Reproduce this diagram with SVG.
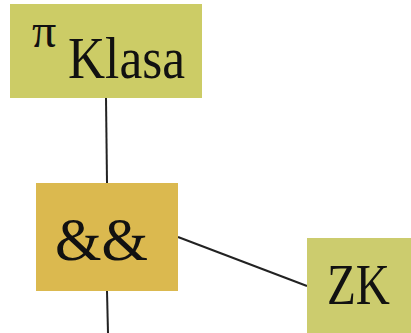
<svg xmlns="http://www.w3.org/2000/svg" width="411" height="333" viewBox="0 0 411 333">
<style>
.t{font-family:'Liberation Serif','DejaVu Serif',serif;fill:#111}
.c{stroke:#222;stroke-width:2;fill:none}
</style>
<rect width="411" height="333" fill="#fff"/>
<g id="connectors">
<line class="c" x1="106" y1="98" x2="107" y2="183"/>
<line class="c" x1="107" y1="291" x2="108" y2="333"/>
<line class="c" x1="178" y1="237" x2="307" y2="286"/>
</g>
<g id="node-klasa">
<rect x="10" y="4" width="192" height="94" fill="#cccc66"/>
<text class="t" x="32" y="47" font-size="48" font-family="Liberation Serif, serif">π</text>
<text class="t" x="68" y="78" font-size="60" textLength="117" lengthAdjust="spacingAndGlyphs" font-family="Liberation Serif, serif">Klasa</text>
</g>
<g id="node-and">
<rect x="36" y="183" width="142" height="108" fill="#dbb94f"/>
<text class="t" x="55" y="260" font-size="62" textLength="93" lengthAdjust="spacingAndGlyphs" font-family="Liberation Serif, serif">&amp;&amp;</text>
</g>
<g id="node-zk">
<rect x="307" y="238" width="110" height="100" fill="#cccc6e"/>
<text class="t" x="327" y="304" font-size="58" textLength="63" lengthAdjust="spacingAndGlyphs" font-family="Liberation Serif, serif">ZK</text>
</g>
</svg>
